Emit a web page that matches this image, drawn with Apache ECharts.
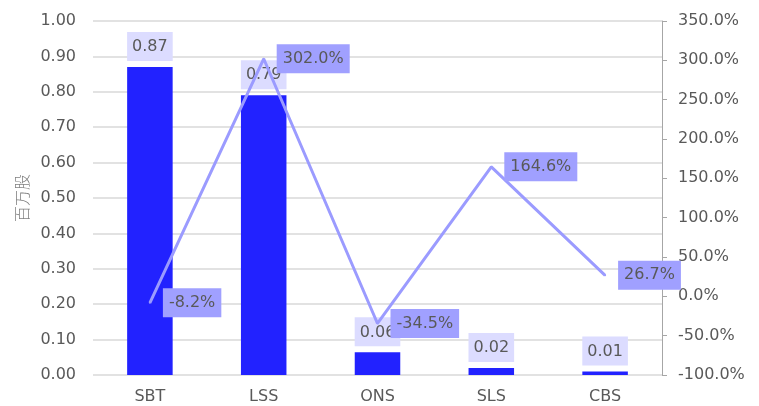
<!DOCTYPE html>
<html><head><meta charset="utf-8">
<script src="https://cdn.jsdelivr.net/npm/echarts@6/dist/echarts.min.js"></script>
<style>html,body{margin:0;padding:0;background:#fff}#c{width:759px;height:406px}</style>
</head><body><div id="c"></div>
<script>
const categories = ['SBT', 'LSS', 'ONS', 'SLS', 'CBS'];
const shares = [0.87, 0.79, 0.064, 0.02, 0.01];
const growth = [-8.2, 302.0, -34.5, 164.6, 26.7];
const leftTicks = {min: 0, max: 1, interval: 0.1};
const rightTicks = {min: -100, max: 350, interval: 50};

const FONT = 'DejaVu Sans';
const TXT = '#595959';
const chart = echarts.init(document.getElementById('c'));
chart.setOption({
  animation: false,
  textStyle: {fontFamily: FONT},
  grid: {left: 93, right: 97, top: 21, bottom: 31},
  xAxis: {
    type: 'category', data: categories,
    axisLine: {show: false}, axisTick: {show: false},
    axisLabel: {color: TXT, fontSize: 16, fontFamily: FONT, margin: 14}
  },
  yAxis: [{
    type: 'value', min: leftTicks.min, max: leftTicks.max, interval: leftTicks.interval,
    name: '百万股', nameLocation: 'middle', nameGap: 58, nameRotate: 90,
    nameTextStyle: {color: '#808080', fontSize: 16, fontWeight: 300, fontFamily: 'Noto Sans CJK SC'},
    axisLine: {show: false}, axisTick: {show: false},
    axisLabel: {color: TXT, fontSize: 16, fontFamily: FONT, margin: 17, formatter: v => v.toFixed(2)},
    splitLine: {lineStyle: {color: '#d9d9d9', width: 1.5}}
  }, {
    type: 'value', position: 'right', min: rightTicks.min, max: rightTicks.max, interval: rightTicks.interval,
    axisLine: {show: true, lineStyle: {color: '#a6a6a6'}},
    axisTick: {show: true, inside: false, length: 5, lineStyle: {color: '#a6a6a6'}},
    axisLabel: {color: TXT, fontSize: 16, fontFamily: FONT, margin: 16, formatter: v => v.toFixed(1) + '%'},
    splitLine: {show: false}
  }],
  series: [{
    type: 'bar', data: shares, barWidth: '40%', yAxisIndex: 0, z: 2,
    itemStyle: {color: '#2222ff'},
    label: {show: true, position: 'top', distance: 6, color: TXT, fontSize: 16, fontFamily: FONT,
      backgroundColor: '#dcdcff', padding: [7, 5, 6, 5], formatter: p => p.value.toFixed(2)}
  }, {
    type: 'line', data: growth, yAxisIndex: 1, z: 3,
    symbol: 'circle', symbolSize: 2, showSymbol: true, showAllSymbol: true,
    lineStyle: {color: '#9b9bff', width: 3}, itemStyle: {color: '#9b9bff'},
    label: {show: true, position: 'right', distance: 12, color: TXT, fontSize: 16, fontFamily: FONT,
      backgroundColor: '#a0a0ff', padding: [7, 6, 6, 6], formatter: p => p.value.toFixed(1) + '%'}
  }]
});
</script></body></html>
